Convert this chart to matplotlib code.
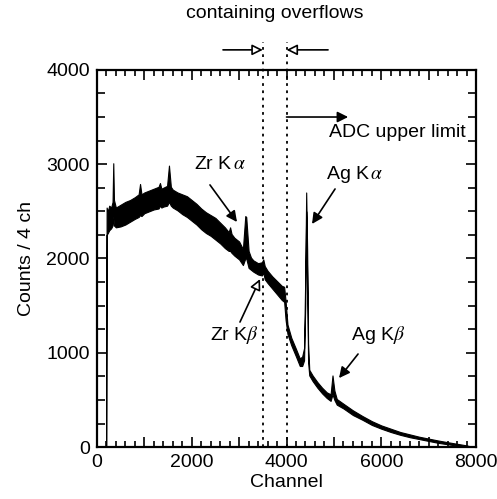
import matplotlib
matplotlib.use("Agg")
import matplotlib.pyplot as plt
from matplotlib.ticker import MultipleLocator, FuncFormatter

plt.rcParams['font.family'] = ['Liberation Sans', 'DejaVu Sans']
plt.rcParams['mathtext.fontset'] = 'stix'

# ---- data: channel, lower and upper edge of the noisy band ----
channel = [195, 205, 230, 260, 300, 330, 345, 360, 400, 500, 600, 700, 800, 880, 910, 940,
           1000, 1100, 1200, 1300, 1330, 1360, 1400, 1480, 1520, 1560, 1600, 1700, 1800, 1900,
           2000, 2100, 2200, 2300, 2400, 2500, 2600, 2700, 2780, 2810, 2840, 2900, 3000, 3080,
           3130, 3150, 3200, 3250, 3300, 3400, 3480, 3510, 3540, 3600, 3700, 3800, 3900, 3950,
           3980, 4020, 4100, 4200, 4280, 4330, 4370, 4395, 4415, 4435, 4455, 4480, 4550, 4650,
           4750, 4850, 4930, 4970, 5010, 5060, 5200, 5400, 5600, 5800, 6000, 6200, 6400, 6600,
           6800, 7000, 7200, 7400, 7600, 7800, 7900]
counts_low = [0, 2250, 2270, 2300, 2320, 2350, 2450, 2350, 2330, 2340, 2360, 2390, 2420, 2440, 2460, 2450,
              2480, 2500, 2520, 2530, 2560, 2540, 2550, 2560, 2600, 2560, 2540, 2510, 2470, 2440,
              2400, 2360, 2310, 2270, 2240, 2200, 2160, 2110, 2080, 2080, 2060, 2030, 1990, 1930,
              2000, 2000, 1900, 1880, 1860, 1830, 1820, 1850, 1780, 1740, 1680, 1620, 1560, 1540,
              1350, 1200, 1080, 960, 860, 860, 920, 1500, 2500, 1800, 900, 760, 700, 630,
              570, 520, 490, 560, 500, 450, 410, 340, 290, 235, 195, 160, 130, 105,
              85, 65, 45, 30, 15, 3, 0]
counts_high = [0, 2540, 2500, 2560, 2540, 2600, 3010, 2620, 2540, 2570, 2600, 2620, 2650, 2680, 2790, 2680,
               2700, 2720, 2740, 2760, 2800, 2740, 2750, 2770, 2985, 2760, 2730, 2700, 2680, 2660,
               2620, 2580, 2530, 2490, 2460, 2430, 2380, 2330, 2280, 2330, 2260, 2220, 2180, 2100,
               2450, 2440, 2080, 2010, 1980, 1950, 1960, 1990, 1920, 1870, 1810, 1760, 1710, 1700,
               1550, 1300, 1160, 1040, 940, 960, 1050, 1800, 2700, 2100, 1100, 820, 760, 690,
               630, 580, 560, 760, 600, 510, 460, 390, 330, 275, 230, 195, 160, 135,
               110, 90, 70, 52, 35, 18, 5]

x_ticks = [0, 2000, 4000, 6000, 8000]
y_ticks = [0, 1000, 2000, 3000, 4000]
overflow_bounds = [3500, 4000]

fig = plt.figure(figsize=(4.97, 4.99), dpi=100)
ax = fig.add_axes([0.195, 0.104, 0.763, 0.756])

ax.fill_between(channel, counts_low, counts_high, facecolor='black', edgecolor='black', lw=0.8)

ax.set_xlim(0, 8000)
ax.set_ylim(0, 4000)
ax.xaxis.set_major_locator(MultipleLocator(1000))
ax.xaxis.set_minor_locator(MultipleLocator(200))
ax.xaxis.set_major_formatter(FuncFormatter(lambda v, p: f"{int(v)}" if int(v) in x_ticks else ""))
ax.set_yticks(y_ticks)
ax.yaxis.set_minor_locator(MultipleLocator(250))
ax.tick_params(which='both', direction='in', top=True, right=True, labelsize=14, width=1.2)
ax.tick_params(which='major', length=7, pad=5)
ax.tick_params(which='minor', length=4)
ax.tick_params(axis='y', which='minor', length=6)
for s in ax.spines.values():
    s.set_linewidth(1.6)

ax.set_xlabel('Channel', fontsize=14, labelpad=2)
ax.set_ylabel('Counts / 4 ch', fontsize=14, labelpad=8)

# overflow boundaries
for xv in overflow_bounds:
    ax.plot([xv, xv], [0, 4300], color='black', lw=1.3, ls=(0, (1.5, 2.5)), clip_on=False)

# top arrows
hollow = dict(arrowstyle='-|>', facecolor='white', edgecolor='black', lw=1.2, mutation_scale=16,
              shrinkA=0, shrinkB=0)
ax.annotate('', xy=(3500, 4212), xytext=(2660, 4212), arrowprops=hollow, annotation_clip=False)
ax.annotate('', xy=(4000, 4212), xytext=(4876, 4212), arrowprops=hollow, annotation_clip=False)
ax.text(3750, 4600, 'containing overflows', fontsize=14, ha='center', va='center')

filled = dict(arrowstyle='-|>', facecolor='black', edgecolor='black', lw=1.2, mutation_scale=16,
              shrinkA=0, shrinkB=0)
# ADC upper limit
ax.annotate('', xy=(5300, 3500), xytext=(4000, 3500), arrowprops=filled)
ax.text(4897, 3340, 'ADC upper limit', fontsize=14, ha='left', va='center')

# peak labels
ax.text(2596, 2992, r'Zr K$\,\alpha$', fontsize=14, ha='center', va='center')
ax.annotate('', xy=(2955, 2387), xytext=(2385, 2780), arrowprops=filled)

ax.text(5446, 2886, r'Ag K$\,\alpha$', fontsize=14, ha='center', va='center')
ax.annotate('', xy=(4538, 2366), xytext=(5024, 2737), arrowprops=filled)

ax.text(2892, 1188, r'Zr K$\beta$', fontsize=14, ha='center', va='center')
ax.annotate('', xy=(3441, 1782), xytext=(3018, 1326), arrowprops=hollow)

ax.text(5931, 1188, r'Ag K$\beta$', fontsize=14, ha='center', va='center')
ax.annotate('', xy=(5108, 732), xytext=(5509, 987), arrowprops=filled)

fig.savefig('out.png', dpi=100)
